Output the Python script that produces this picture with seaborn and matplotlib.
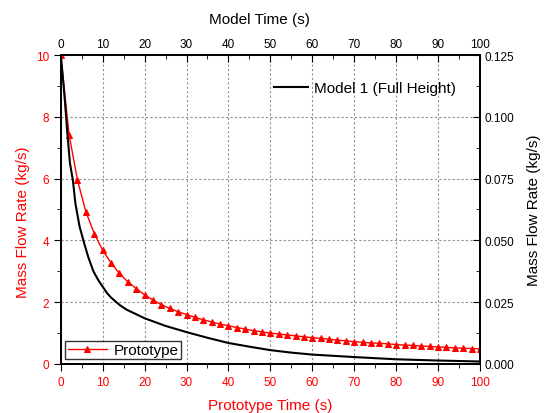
import matplotlib
matplotlib.use("Agg")
import matplotlib.pyplot as plt
import seaborn as sns
import pandas as pd
from matplotlib.ticker import MultipleLocator, FormatStrFormatter

# Prototype data (left / bottom axes)
proto_time = list(range(0, 101, 2))
proto_flow = [10.0, 7.42, 5.95, 4.93, 4.22, 3.68, 3.27, 2.93, 2.66, 2.44, 2.24,
              2.07, 1.92, 1.80, 1.69, 1.60, 1.51, 1.43, 1.36, 1.29, 1.24,
              1.18, 1.13, 1.08, 1.04, 1.00, 0.97, 0.94, 0.91, 0.88, 0.85,
              0.83, 0.80, 0.77, 0.75, 0.72, 0.70, 0.68, 0.67, 0.65, 0.63,
              0.61, 0.60, 0.58, 0.57, 0.55, 0.54, 0.52, 0.51, 0.50, 0.49]

# Model data (right / top axes)
model_time = [0, 0.5, 1, 1.6, 2.2, 2.9, 3.5, 4.5, 5.5, 6.6, 7.8, 9, 10, 11,
              12, 13, 14.1, 15.7, 20, 25, 30, 35, 40, 45, 50, 55, 60, 70, 80, 90, 100]
model_flow = [0.1250, 0.1163, 0.1063, 0.0931, 0.0813, 0.0744, 0.0650, 0.0556,
              0.0494, 0.0431, 0.0375, 0.0338, 0.0313, 0.0288, 0.0269, 0.0254,
              0.0238, 0.0220, 0.0185, 0.0154, 0.0129, 0.0106, 0.0085, 0.0070,
              0.0056, 0.0046, 0.0038, 0.0028, 0.0019, 0.0014, 0.0010]

plt.rcParams['font.family'] = ['Liberation Sans', 'DejaVu Sans']

fig = plt.figure(figsize=(5.44, 4.14), dpi=100)
ax = fig.add_axes([0.1116, 0.1184, 0.8824 - 0.1116, 0.8647 - 0.1184])
axr = ax.twinx()
axt = axr.twiny()

red = '#ff0000'
df_p = pd.DataFrame({'t': proto_time, 'v': proto_flow})
df_m = pd.DataFrame({'t': model_time, 'v': model_flow})

sns.lineplot(data=df_p, x='t', y='v', ax=ax, color=red, marker='^',
             markersize=5, markeredgecolor=red, linewidth=1.0, label='Prototype')
sns.lineplot(data=df_m, x='t', y='v', ax=axt, color='black', linewidth=1.5,
             label='Model 1 (Full Height)')

ax.set_xlim(0, 100)
ax.set_ylim(0, 10)
axt.set_xlim(0, 100)
axr.set_ylim(0, 0.125)
axt.set_ylim(0, 0.125)

ax.xaxis.set_major_locator(MultipleLocator(10))
ax.xaxis.set_minor_locator(MultipleLocator(5))
ax.yaxis.set_major_locator(MultipleLocator(2))
ax.yaxis.set_minor_locator(MultipleLocator(1))
axt.xaxis.set_major_locator(MultipleLocator(10))
axt.xaxis.set_minor_locator(MultipleLocator(5))
axr.yaxis.set_major_locator(MultipleLocator(0.025))
axr.yaxis.set_minor_locator(MultipleLocator(0.0125))
axr.yaxis.set_major_formatter(FormatStrFormatter('%.3f'))

ax.grid(True, which='major', linestyle=(0, (2, 2)), color='#909090', linewidth=0.8)
axr.grid(False)
axt.grid(False)

fs_tick = 8.5
fs_lab = 11
ax.tick_params(axis='x', which='both', direction='out', colors='black',
               labelcolor=red, labelsize=fs_tick)
ax.tick_params(axis='y', which='both', direction='out', colors='black',
               labelcolor=red, labelsize=fs_tick)
ax.tick_params(which='major', length=5)
ax.tick_params(which='minor', length=3)
axt.tick_params(axis='x', which='both', direction='in', labelsize=fs_tick)
axt.tick_params(which='major', length=5)
axt.tick_params(which='minor', length=3)
axr.tick_params(axis='y', which='both', direction='in', labelsize=fs_tick)
axr.tick_params(which='major', length=5)
axr.tick_params(which='minor', length=3)

ax.set_xlabel('Prototype Time (s)', color=red, fontsize=fs_lab, labelpad=7)
ax.set_ylabel('Mass Flow Rate (kg/s)', color=red, fontsize=fs_lab, labelpad=4)
ax.yaxis.label.set_y(0.463)
axt.set_xlabel('Model Time (s)', fontsize=fs_lab, labelpad=11)
axt.xaxis.label.set_x(0.473)
axr.set_ylabel('Mass Flow Rate (kg/s)', fontsize=fs_lab, labelpad=9)
axt.set_ylabel('')

for a in (ax, axr, axt):
    for s in a.spines.values():
        s.set_color('black')
        s.set_linewidth(1.2)

leg1 = ax.legend(loc='lower left', fontsize=11, frameon=True, fancybox=False,
                 borderpad=0.15, handlelength=2.6, handletextpad=0.4,
                 borderaxespad=0.3)
leg1.get_frame().set_edgecolor('black')
leg1.get_frame().set_linewidth(1.0)
leg2 = axt.legend(loc='upper right', fontsize=11, frameon=False,
                  handlelength=2.2, handletextpad=0.4,
                  bbox_to_anchor=(0.975, 0.96))

fig.savefig('out.png', dpi=100)
